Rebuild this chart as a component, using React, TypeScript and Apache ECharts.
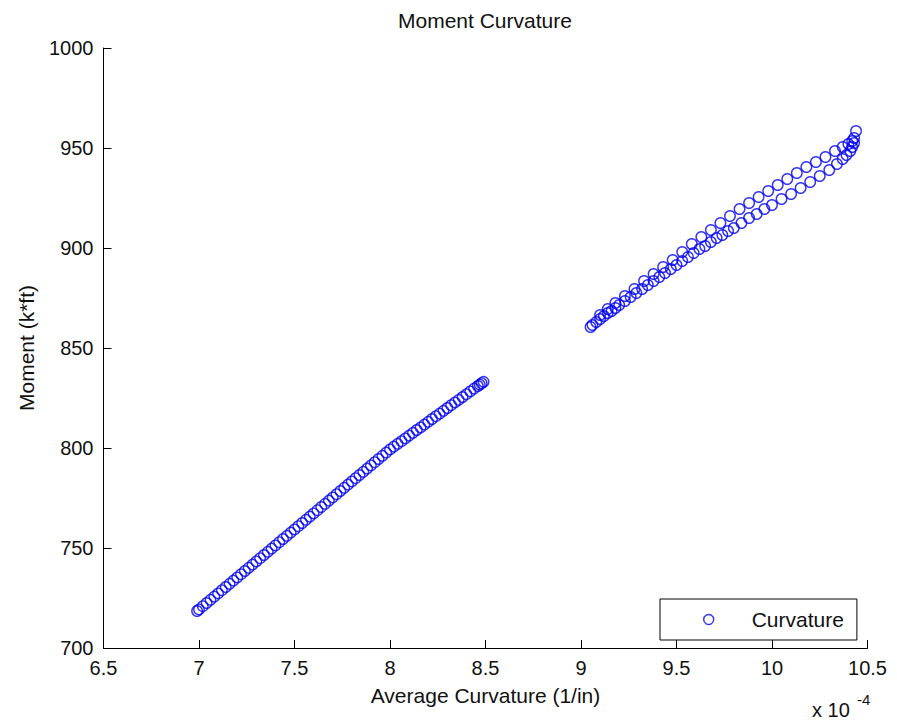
import React, { useEffect, useRef } from "react";
import * as echarts from "echarts";

// Average curvature in units of 1e-4 (1/in), moment in k*ft
const lowerCurvature = [
  6.99, 7.0, 7.02, 7.04, 7.06, 7.08, 7.1, 7.12, 7.14, 7.16, 7.18, 7.2, 7.22, 7.24, 7.26, 7.28,
  7.3, 7.32, 7.34, 7.36, 7.38, 7.4, 7.42, 7.44, 7.46, 7.48, 7.5, 7.52, 7.54, 7.56, 7.58, 7.6,
  7.62, 7.64, 7.66, 7.68, 7.7, 7.72, 7.74, 7.76, 7.78, 7.8, 7.82, 7.84, 7.86, 7.88, 7.9, 7.92,
  7.94, 7.96, 7.98, 8.0, 8.02, 8.04, 8.06, 8.08, 8.1, 8.12, 8.14, 8.16, 8.18, 8.2, 8.22, 8.24,
  8.26, 8.28, 8.3, 8.32, 8.34, 8.36, 8.38, 8.4, 8.42, 8.44, 8.46, 8.47, 8.48, 8.49,
];
const lowerMoment = [
  718.5, 719.3, 720.9, 722.5, 724.1, 725.7, 727.3, 728.9, 730.5, 732.1, 733.7, 735.3, 736.9,
  738.5, 740.1, 741.7, 743.3, 744.9, 746.5, 748.1, 749.7, 751.3, 752.9, 754.5, 756.1, 757.7,
  759.3, 760.9, 762.5, 764.1, 765.7, 767.3, 768.9, 770.5, 772.1, 773.7, 775.3, 776.9, 778.5,
  780.1, 781.7, 783.3, 784.9, 786.5, 788.1, 789.7, 791.3, 792.9, 794.5, 796.1, 797.7, 799.3,
  800.7, 802.1, 803.4, 804.8, 806.2, 807.6, 809.0, 810.3, 811.7, 813.1, 814.5, 815.9, 817.2,
  818.6, 820.0, 821.4, 822.8, 824.1, 825.5, 826.9, 828.3, 829.7, 831.0, 831.7, 832.4, 833.1,
];
const loadCurvature = [
  9.05, 9.06, 9.08, 9.1, 9.12, 9.14, 9.16, 9.18, 9.2, 9.23, 9.26, 9.29, 9.32, 9.35, 9.38, 9.41,
  9.44, 9.47, 9.5, 9.53, 9.56, 9.59, 9.62, 9.65, 9.68, 9.71, 9.74, 9.77, 9.8, 9.84, 9.88, 9.92,
  9.96, 10.0, 10.05, 10.1, 10.15, 10.2, 10.25, 10.3, 10.34, 10.37, 10.39, 10.41, 10.42, 10.43,
  10.44,
];
const loadMoment = [
  860.5, 861.5, 863, 864.5, 866, 867.5, 868.5, 870, 871.5, 873.5, 875.5, 877.5, 879.5, 881.5,
  883.5, 885.5, 887.5, 889.5, 891.5, 893.5, 895.5, 897.5, 899.5, 901, 903, 905, 906.5, 908.5,
  910, 912.5, 915, 917, 919.5, 921.5, 924.5, 927, 930, 933, 936, 939, 942, 944.5, 946.5, 948.5,
  950.5, 952.5, 958.5,
];
const unloadCurvature = [
  10.43, 10.42, 10.4, 10.37, 10.33, 10.28, 10.23, 10.18, 10.13, 10.08, 10.03, 9.98, 9.93, 9.88,
  9.83, 9.78, 9.73, 9.68, 9.63, 9.58, 9.53, 9.48, 9.43, 9.38, 9.33, 9.28, 9.23, 9.18, 9.14, 9.1,
];
const unloadMoment = [
  955, 953.5, 952, 950.5, 948.5, 945.5, 943, 940.5, 937.5, 934.5, 931.5, 928.5, 925.5, 922.5,
  919.5, 916, 912.5, 909, 905.5, 902, 898, 894, 890.5, 887, 883.5, 879.5, 876, 872.5, 869.5,
  866.5,
];

const pairs = (xs: number[], ys: number[]) => xs.map((x, i) => [x, ys[i]]);

const FONT = "'Liberation Sans', Arial, sans-serif";
const MARK = "#0000f0";

export default function App() {
  const ref = useRef<HTMLDivElement>(null);
  useEffect(() => {
    if (!ref.current) return;
    const chart = echarts.init(ref.current, undefined, { renderer: "svg" });
    const data = [
      ...pairs(lowerCurvature, lowerMoment),
      ...pairs(loadCurvature, loadMoment),
      ...pairs(unloadCurvature, unloadMoment),
    ];
    chart.setOption({
      animation: false,
      backgroundColor: "#ffffff",
      textStyle: { fontFamily: FONT },
      title: {
        text: "Moment Curvature",
        left: 398,
        top: 10,
        padding: 0,
        textStyle: { fontSize: 21, fontWeight: "normal", color: "#111", fontFamily: FONT },
      },
      grid: { left: 103.5, right: 29.5, top: 48, bottom: 80, containLabel: false },
      xAxis: {
        type: "value",
        min: 6.5,
        max: 10.5,
        interval: 0.5,
        name: "Average Curvature (1/in)",
        nameLocation: "middle",
        nameGap: 37,
        nameTextStyle: { fontSize: 21, color: "#111", fontFamily: FONT },
        axisLine: { show: true, onZero: false, lineStyle: { color: "#000", width: 1 } },
        axisTick: { show: true, inside: true, length: 8, lineStyle: { color: "#000" } },
        axisLabel: { fontSize: 20, color: "#111", margin: 10, fontFamily: FONT, formatter: (v: number) => String(v) },
        splitLine: { show: false },
      },
      yAxis: {
        type: "value",
        min: 700,
        max: 1000,
        interval: 50,
        name: "Moment (k*ft)",
        nameLocation: "middle",
        nameGap: 67,
        nameTextStyle: { fontSize: 21, color: "#111", fontFamily: FONT },
        axisLine: { show: true, onZero: false, lineStyle: { color: "#000", width: 1 } },
        axisTick: { show: true, inside: true, length: 8, lineStyle: { color: "#000" } },
        axisLabel: { fontSize: 20, color: "#111", margin: 10, fontFamily: FONT, formatter: (v: number) => String(v) },
        splitLine: { show: false },
      },
      legend: {
        left: 660,
        top: 599,
        orient: "horizontal",
        backgroundColor: "#fff",
        borderColor: "#000",
        borderWidth: 1,
        borderRadius: 0,
        padding: [10, 13, 10, 43],
        itemWidth: 10,
        itemHeight: 10,
        itemGap: 0,
        textStyle: { fontSize: 21, lineHeight: 21, color: "#111", padding: [0, 0, 0, 33], fontFamily: FONT },
        data: [
          {
            name: "Curvature",
            icon: "circle",
            itemStyle: { color: "transparent", borderColor: MARK, borderWidth: 1.4 },
          },
        ],
      },
      graphic: [
        { type: "text", left: 812, top: 700, style: { text: "x 10", fontSize: 20, fill: "#111", fontFamily: FONT } },
        { type: "text", left: 857, top: 692, style: { text: "-4", fontSize: 15, fill: "#111", fontFamily: FONT } },
      ],
      series: [
        {
          name: "Curvature",
          type: "scatter",
          symbol: "circle",
          symbolSize: 10.5,
          itemStyle: { color: "transparent", borderColor: MARK, borderWidth: 1.4 },
          emphasis: { disabled: true },
          data,
        },
      ],
    });
    return () => chart.dispose();
  }, []);
  return (
    <div
      ref={ref}
      style={{ position: "fixed", left: 0, top: 0, width: 897, height: 728, background: "#fff" }}
    />
  );
}
